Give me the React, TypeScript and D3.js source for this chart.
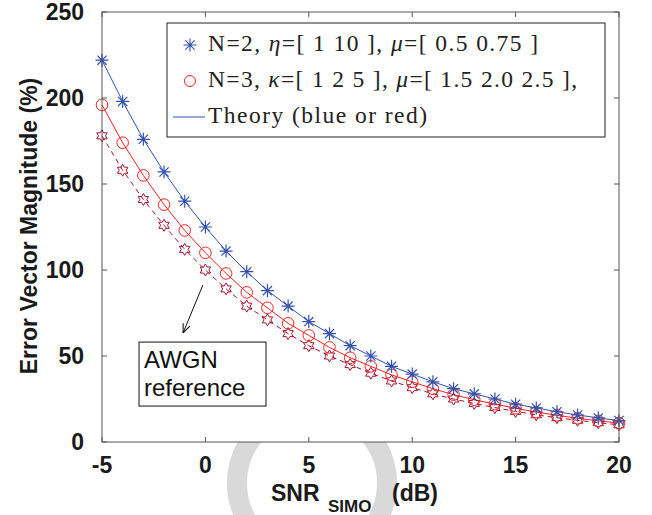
import React from 'react';
import * as d3 from 'd3';

// values
const snrDb = [-5, -4, -3, -2, -1, 0, 1, 2, 3, 4, 5, 6, 7, 8, 9, 10, 11, 12, 13, 14, 15, 16, 17, 18, 19, 20];
const evmN2 = [222, 198, 176, 157, 140, 125, 111, 99, 88, 79, 70, 63, 56, 50, 44, 39.5, 35, 31, 28, 25, 22, 19.8, 17.6, 15.7, 14, 12.5];
const evmN3 = [196, 174, 155, 138, 123, 110, 98, 87, 78, 69, 62, 55, 49, 44, 39, 35, 31, 27.5, 24.6, 22, 19.6, 17.4, 15.5, 13.8, 12.3, 11];
const evmAwgn = [178, 158, 141, 126, 112, 100, 89, 79, 71, 63, 56, 50, 45, 40, 35.5, 31.6, 28, 25, 22.4, 20, 17.8, 15.8, 14.1, 12.6, 11.2, 10];
const xTicks = [-5, 0, 5, 10, 15, 20];
const yTicks = [0, 50, 100, 150, 200, 250];

const W = 652, H = 515;
const m = { left: 102, right: 619, top: 12, bottom: 442 };
const blue = '#3353ad';
const red = '#f22424';
const darkRed = '#a2142f';
const axisCol = '#555';

const starPath = 'M-6.5,0H6.5M0,-6.5V6.5M-4.6,-4.6L4.6,4.6M-4.6,4.6L4.6,-4.6';
function hexagram(R: number) {
  const pts: string[] = [];
  for (let i = 0; i < 12; i++) {
    const r = i % 2 === 0 ? R : R / Math.sqrt(3);
    const a = -Math.PI / 2 + (i * Math.PI) / 6;
    pts.push(`${(r * Math.cos(a)).toFixed(2)},${(r * Math.sin(a)).toFixed(2)}`);
  }
  return 'M' + pts.join('L') + 'Z';
}
const hexPath = hexagram(6);

export default function App() {
  const x = d3.scaleLinear().domain([-5, 20]).range([m.left, m.right]);
  const y = d3.scaleLinear().domain([0, 250]).range([m.bottom, m.top]);
  const line = (vals: number[]) =>
    d3.line<number>().x((_, i) => x(snrDb[i])).y((d) => y(d))(vals) || '';

  const tickFont = { fontFamily: '"Liberation Sans", Arial, sans-serif', fontWeight: 700, fontSize: 23, fill: '#1a1a1a' };
  const serif = { fontFamily: '"Liberation Serif", "Times New Roman", serif', fontSize: 23.5, fill: '#222' };

  return (
    <svg width={W} height={H} style={{ position: 'absolute', left: 0, top: 0, background: '#fff' }}>
      {/* watermark ring */}
      <circle cx={312} cy={483} r={75} fill="none" stroke="#d9d9d9" strokeWidth={20} />
      <rect x={m.left} y={m.top} width={m.right - m.left} height={m.bottom - m.top} fill="#fff" />

      {/* theory curves */}
      <path d={line(evmN2)} fill="none" stroke={blue} strokeWidth={1} />
      <path d={line(evmN3)} fill="none" stroke={red} strokeWidth={1} />
      <path d={line(evmAwgn)} fill="none" stroke={darkRed} strokeWidth={1} strokeDasharray="5,4" />

      {/* markers */}
      {evmAwgn.map((v, i) => (
        <path key={'h' + i} d={hexPath} transform={`translate(${x(snrDb[i])},${y(v)})`} fill="none" stroke={darkRed} strokeWidth={1} />
      ))}
      {evmN3.map((v, i) => (
        <circle key={'c' + i} cx={x(snrDb[i])} cy={y(v)} r={5.8} fill="none" stroke={red} strokeWidth={1} />
      ))}
      {evmN2.map((v, i) => (
        <path key={'s' + i} d={starPath} transform={`translate(${x(snrDb[i])},${y(v)})`} fill="none" stroke={blue} strokeWidth={1.2} />
      ))}

      {/* axes box */}
      <rect x={m.left} y={m.top} width={m.right - m.left} height={m.bottom - m.top} fill="none" stroke={axisCol} strokeWidth={1} />
      {xTicks.map((t) => (
        <g key={'x' + t}>
          <line x1={x(t)} x2={x(t)} y1={m.bottom} y2={m.bottom - 5} stroke={axisCol} />
          <line x1={x(t)} x2={x(t)} y1={m.top} y2={m.top + 5} stroke={axisCol} />
          <text x={x(t)} y={473} textAnchor="middle" {...tickFont}>{t}</text>
        </g>
      ))}
      {yTicks.map((t) => (
        <g key={'y' + t}>
          <line x1={m.left} x2={m.left + 5} y1={y(t)} y2={y(t)} stroke={axisCol} />
          <line x1={m.right} x2={m.right - 5} y1={y(t)} y2={y(t)} stroke={axisCol} />
          <text x={84} y={y(t) + 8} textAnchor="end" {...tickFont}>{t}</text>
        </g>
      ))}

      {/* axis titles */}
      <text transform="translate(37,226) rotate(-90)" textAnchor="middle" {...tickFont}>Error Vector Magnitude (%)</text>
      <text x={271} y={501} {...tickFont}>SNR</text>
      <text x={328} y={512} {...tickFont} fontSize={17}>SIMO</text>
      <text x={392} y={501} {...tickFont}>(dB)</text>

      {/* annotation */}
      <defs>
        <marker id="arr" viewBox="0 0 10 10" refX="10" refY="5" markerWidth="9" markerHeight="9" orient="auto">
          <path d="M0,1L10,5L0,9" fill="none" stroke="#111" strokeWidth={1.2} />
        </marker>
      </defs>
      <line x1={x(-0.12)} y1={y(91.3)} x2={x(-1.08)} y2={y(63.4)} stroke="#111" strokeWidth={1} markerEnd="url(#arr)" />
      <rect x={x(-3.21)} y={y(58.1)} width={x(2.93) - x(-3.21)} height={y(20.9) - y(58.1)} fill="#fff" stroke="#111" strokeWidth={1} />
      <text x={x(-3.21) + 5} y={368} fontFamily='"Liberation Sans", Arial, sans-serif' fontSize={24} fill="#111">AWGN</text>
      <text x={x(-3.21) + 5} y={396} fontFamily='"Liberation Sans", Arial, sans-serif' fontSize={24} fill="#111">reference</text>

      {/* legend */}
      <rect x={167} y={23} width={438} height={114} fill="#fff" stroke="#222" strokeWidth={1} />
      <path d={starPath} transform="translate(190,45)" fill="none" stroke={blue} strokeWidth={1.1} />
      <text x={208} y={51} {...serif} textLength={330} lengthAdjust="spacing">
        N=2, <tspan fontStyle="italic">η</tspan>=[ 1 10 ], <tspan fontStyle="italic">μ</tspan>=[ 0.5 0.75 ]
      </text>
      <circle cx={190} cy={81} r={5.5} fill="none" stroke={red} strokeWidth={1} />
      <text x={208} y={87} {...serif} textLength={369} lengthAdjust="spacing">
        N=3, <tspan fontStyle="italic">κ</tspan>=[ 1 2 5 ], <tspan fontStyle="italic">μ</tspan>=[ 1.5 2.0 2.5 ],
      </text>
      <line x1={173} x2={205} y1={117} y2={117} stroke={blue} strokeWidth={1} />
      <text x={208} y={123} {...serif} textLength={219} lengthAdjust="spacing">Theory (blue or red)</text>
    </svg>
  );
}
